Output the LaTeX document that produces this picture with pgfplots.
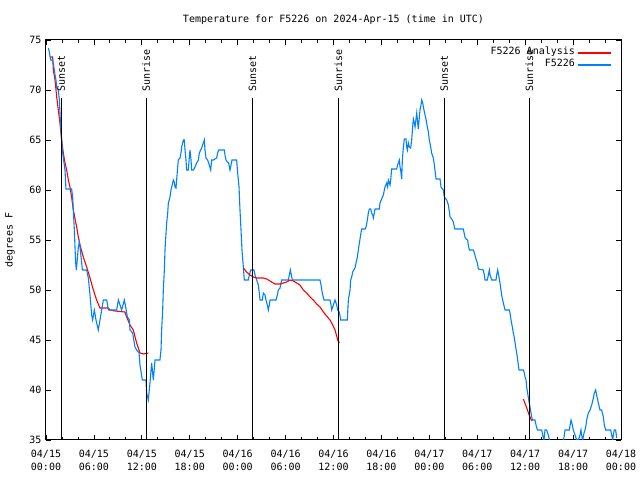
\documentclass[border=0pt]{standalone}
\usepackage{pgfplots}
\pgfplotsset{compat=1.18}
\usepackage{fontspec}
\setmainfont{DejaVu Sans Mono}
\definecolor{anared}{RGB}{255,0,0}
\definecolor{obsblue}{RGB}{0,128,255}
\newcommand{\gfont}{\fontsize{10bp}{13bp}\selectfont}
\begin{document}
\begin{tikzpicture}
\begin{axis}[
  name=ax,
  scale only axis,
  width=575bp, height=400bp,
  xmin=0, xmax=72, ymin=35, ymax=75,
  axis line style={black, line width=1bp},
  xtick={0,6,...,72},
  minor x tick num=2,
  ytick={35,40,...,75},
  xticklabels={{04/15\\00:00},{04/15\\06:00},{04/15\\12:00},{04/15\\18:00},{04/16\\00:00},{04/16\\06:00},{04/16\\12:00},{04/16\\18:00},{04/17\\00:00},{04/17\\06:00},{04/17\\12:00},{04/17\\18:00},{04/18\\00:00}},
  xticklabel style={align=center, font=\gfont, yshift=-7bp},
  yticklabel style={font=\gfont, xshift=-1bp},
  /pgf/number format/assume math mode=true,
  major tick length=5bp,
  minor tick length=3bp,
  tick style={black, line width=0.8bp},
  title={Temperature for F5226 on 2024-Apr-15 (time in UTC)},
  title style={font=\gfont, at={(axis description cs:0.5,1.035)}, anchor=center},
  ylabel={degrees F},
  ylabel style={font=\gfont, at={(axis description cs:-0.0626,0.5)}, anchor=center},
  legend plot pos=right,
  legend cell align=right,
  legend image code/.code={\path (0bp,0bp) -- (5bp,0bp); \draw[#1] (5bp,0bp) -- (33bp,0bp);},
  legend style={draw=none, fill=none, font=\gfont, inner sep=0pt, outer sep=0pt,
    row sep=0pt, at={(axis description cs:1,1)}, anchor=north east, xshift=-9bp, yshift=-7bp,
    nodes={inner ysep=0bp, inner xsep=3bp, text height=8bp, text depth=4bp}},
]
\addplot[anared, line width=1.1bp] coordinates {
(0.50,73.3) (0.83,73.3) (0.92,72) (1.13,71) (1.34,69.3) (1.54,68) (1.75,66.7) (1.96,65) (2.17,63.7) (2.38,62.7) (2.59,62) (2.80,61) (3.00,60.3) (3.21,59.3) (3.42,58) (3.84,56.3) (4.05,55.3) (4.26,54.5) (4.67,53.3) (5.09,52.3) (5.51,51.2) (5.93,50) (6.34,49) (6.76,48.2) (7.81,48.2) (8.01,48) (8.64,47.9) (9.89,47.8) (10.10,47.3) (10.52,46.5) (10.93,46) (11.35,44.7) (11.77,43.7) (12.19,43.6) (12.81,43.7)
};
\addlegendentry{F5226 Analysis}
\addplot[obsblue, line width=1.1bp] coordinates {
(0.29,74.2) (0.42,73.8) (0.58,73) (0.83,73) (0.92,72.7) (1.04,72) (1.13,71.5) (1.25,71) (1.34,70.2) (1.54,70) (1.67,69) (1.75,67.7) (1.84,66.3) (1.96,65) (2.05,64) (2.17,63.2) (2.38,62) (2.50,60.1) (3.21,60.1) (3.34,59.3) (3.42,58) (3.55,56) (3.63,54.3) (3.72,52.7) (3.80,52) (3.88,52.7) (4.05,54.3) (4.17,54.8) (4.26,54.3) (4.47,52.7) (4.55,52) (5.09,52) (5.30,51.2) (5.51,49.5) (5.72,47.5) (5.84,47) (6.05,48) (6.26,47) (6.55,46) (6.76,47) (6.97,48) (7.18,49) (7.60,49) (7.81,48) (8.85,48) (9.06,49) (9.27,48.5) (9.47,48) (9.64,48.5) (9.81,49) (10.0,48.2) (10.19,47.3) (10.44,47) (10.52,46) (10.85,45.7) (11.14,44.3) (11.35,44) (11.65,43.7) (11.77,42.5) (12.06,41) (12.52,41) (12.60,39.7) (12.81,39) (13.02,40.7) (13.23,42.7) (13.44,41) (13.65,43) (14.27,43) (14.40,44) (14.48,46) (14.61,48) (14.69,50) (14.82,52) (14.90,54) (15.03,55.7) (15.11,56.7) (15.24,57.7) (15.32,58.7) (15.53,59.3) (15.65,60) (15.86,60.7) (15.94,61) (16.07,60.8) (16.15,60.3) (16.28,60.2) (16.36,61) (16.49,62.3) (16.57,63) (16.78,63.2) (16.90,63.7) (16.99,64.3) (17.11,64.7) (17.20,65) (17.32,65) (17.41,64) (17.53,63) (17.61,62) (17.82,62) (17.95,63.3) (18.03,64) (18.16,63) (18.24,62) (18.45,62) (18.66,62.3) (18.87,62.7) (19.08,63) (19.20,63.7) (19.37,64) (19.53,64.3) (19.70,64.7) (19.83,65) (19.91,64) (20.04,63.2) (20.24,63) (20.45,62.5) (20.62,62) (20.74,63) (20.95,63) (21.37,63.2) (21.49,63.7) (21.62,64) (22.33,64) (22.41,63.5) (22.54,63) (22.71,62.8) (22.87,62.7) (23.04,62) (23.17,62.5) (23.29,63) (23.87,63) (24.00,61.7) (24.17,60.3) (24.29,58) (24.42,56) (24.54,54) (24.71,52.3) (24.83,51) (25.33,51) (25.46,51.5) (25.63,52) (26.05,52) (26.17,51.5) (26.38,51) (26.59,50.5) (26.71,49.7) (26.80,49) (27.09,49) (27.21,49.7) (27.42,49.5) (27.55,49) (27.71,48.5) (27.84,48) (27.96,48.5) (28.05,49) (28.80,49) (28.97,49.5) (29.09,50) (29.30,50.2) (29.51,51) (30.34,51) (30.47,51.5) (30.60,52) (30.72,51.5) (30.85,51) (34.31,51) (34.44,50.5) (34.60,49.7) (34.81,49) (35.56,49) (35.69,48.5) (35.77,48) (35.98,48.5) (36.19,49) (36.40,48.5) (36.52,48) (36.73,47.8) (36.90,47) (37.73,47) (37.86,49) (38.07,50) (38.15,51) (38.28,51.3) (38.40,51.8) (38.69,52.2) (38.82,52.7) (38.99,53.3) (39.11,54) (39.24,54.7) (39.40,55.5) (39.53,56.1) (39.95,56.1) (40.07,56.3) (40.24,57) (40.36,57.7) (40.49,58.1) (40.66,58.1) (40.78,57.7) (40.91,57.5) (40.99,57.2) (41.11,57.7) (41.20,58.1) (41.74,58.1) (41.82,58.7) (42.03,59.1) (42.24,59.5) (42.37,60) (42.45,60.3) (42.66,60.7) (42.78,60.3) (42.87,61) (43.08,60.5) (43.16,61) (43.28,62.1) (43.91,62.1) (44.03,62.5) (44.16,62.8) (44.24,63) (44.33,62.3) (44.41,62) (44.54,61.1) (44.62,63) (44.74,64.2) (44.87,65.1) (45.08,65.1) (45.16,64.3) (45.25,64) (45.37,64.7) (45.50,64.3) (45.66,64.2) (45.79,65) (45.91,66.3) (46.00,67.1) (46.12,66.7) (46.21,66.3) (46.33,67.1) (46.42,67.7) (46.54,66.7) (46.62,66.1) (46.75,67.3) (46.83,68) (46.96,68.5) (47.04,69) (47.17,68.7) (47.33,68) (47.46,67.5) (47.58,67.1) (47.75,66.3) (47.88,65.8) (48.00,65) (48.17,64.3) (48.29,63.7) (48.50,63.2) (48.63,62.5) (48.75,61.7) (48.84,61.1) (49.34,61.1) (49.46,60.3) (49.75,60) (49.88,59.3) (50.17,59) (50.38,58.5) (50.51,57.8) (50.59,57.3) (50.80,57.1) (51.00,56.8) (51.13,56.3) (51.21,56.1) (52.25,56.1) (52.46,55.3) (52.59,55.1) (52.80,55) (52.88,54.5) (53.01,54) (53.51,54) (53.64,53.7) (53.84,53.1) (54.01,52.7) (54.14,52.1) (54.76,52) (54.89,51.5) (54.97,51) (55.26,51) (55.39,51.5) (55.51,52) (55.60,51.5) (55.81,51) (56.35,51) (56.43,51.5) (56.56,52) (56.72,51.3) (56.85,50.7) (56.97,50) (57.10,49.3) (57.27,48.7) (57.48,48) (58.02,48) (58.10,47.7) (58.23,47) (58.39,46.3) (58.52,45.7) (58.65,45.2) (58.81,44.3) (58.94,43.7) (59.06,43) (59.23,42) (59.77,42) (59.90,41.7) (59.98,41.3) (60.11,41) (60.19,40.3) (60.31,39.7) (60.44,39) (60.61,38.3) (60.73,37.7) (60.90,37) (61.23,37) (61.36,36.5) (61.53,36) (62.07,36) (62.19,35.5) (62.36,35) (62.48,36) (62.69,36) (62.90,35.5) (63.11,34.8) (64.78,34.8) (64.99,36) (65.53,36) (65.74,37) (65.91,36.5) (66.03,36) (66.24,35.5) (66.45,35) (66.66,35) (66.87,35.5) (66.99,36) (67.07,35.5) (67.20,35) (67.37,35.7) (67.49,36) (67.62,36.5) (67.70,37) (67.91,37.7) (68.12,38) (68.33,38.5) (68.54,39.2) (68.66,39.7) (68.83,40) (68.95,39.5) (69.16,38.7) (69.37,38) (69.58,38) (69.79,37.3) (69.91,36.5) (70.08,36) (70.71,36) (70.83,35.5) (70.96,35) (71.04,35.5) (71.16,36) (71.33,36) (71.46,35.2)
};
\addlegendentry{F5226}
\addplot[anared, line width=1.1bp, forget plot] coordinates {
(24.71,52.2) (25.12,51.8) (25.55,51.5) (25.96,51.3) (26.38,51.2) (27.21,51.2) (27.63,51.1) (27.84,51) (28.26,50.8) (28.67,50.6) (29.30,50.6) (29.72,50.7) (30.14,50.8) (30.55,51) (30.97,50.9) (31.39,50.7) (31.80,50.5) (32.22,50) (32.64,49.7) (33.06,49.3) (33.47,49) (33.89,48.6) (34.31,48.3) (34.73,47.8) (35.14,47.4) (35.56,47) (35.90,46.5) (36.19,46) (36.40,45.4) (36.52,45) (36.73,44.7)
};
\addplot[anared, line width=1.1bp, forget plot] coordinates {
(59.77,39.1) (60.2,38.2) (60.5,37.5) (60.82,36.9)
};
\foreach \t/\lab in {1.9/Sunset,12.55/Sunrise,25.84/Sunset,36.6/Sunrise,49.88/Sunset,60.52/Sunrise}{
  \edef\tmp{\noexpand\draw[black, line width=1bp] (axis cs:\t,35) -- (axis cs:\t,69.15);
    \noexpand\node[rotate=90, anchor=west, inner sep=0pt, font=\noexpand\gfont] at (axis cs:\t,69.85) {\lab};}
  \tmp
}
\end{axis}
\pgfresetboundingbox
\useasboundingbox (ax.south west) ++(-46bp,-40bp) rectangle ++(640bp,480bp);
\end{tikzpicture}
\end{document}
